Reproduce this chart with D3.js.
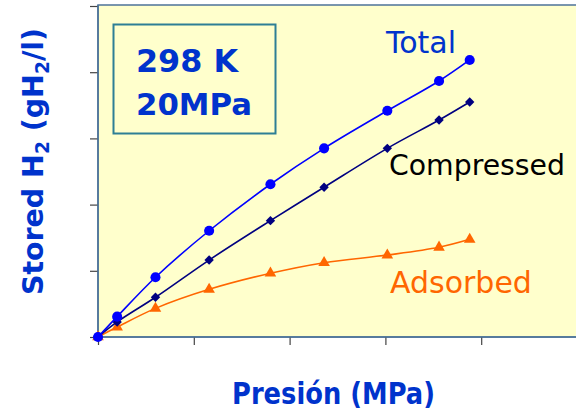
<!DOCTYPE html>
<html>
<head>
<meta charset="utf-8">
<script src="https://cdn.jsdelivr.net/npm/d3@7"></script>
<style>
  html, body { margin: 0; padding: 0; background: #ffffff; }
  svg { display: block; }
  text { font-family: "DejaVu Sans", Verdana, sans-serif; }
</style>
</head>
<body>
<svg id="chart" width="576" height="413"></svg>
<script>
// ---- data ----
const pressure   = [0, 1, 3, 5.8, 9, 11.8, 15.1, 17.8, 19.4];
const total      = [0, 1.23, 3.61, 6.42, 9.23, 11.40, 13.67, 15.47, 16.74];
const compressed = [0, 0.91, 2.40, 4.65, 7.03, 9.05, 11.40, 13.11, 14.20];
const adsorbed   = [0, 0.60, 1.73, 2.88, 3.85, 4.49, 4.95, 5.42, 5.90];
const xTicks = [0, 5, 10, 15, 20, 25];
const yTicks = [0, 4, 8, 12, 16, 20];
const seriesNames = ["Total", "Compressed", "Adsorbed"];
const boxLines = ["298 K", "20MPa"];
const xTitle = "Presión (MPa)";

const svg = d3.select("#chart");
const x = d3.scaleLinear().domain([0, 25]).range([98, 577]);
const y = d3.scaleLinear().domain([0, 20]).range([337, 6]);

// plot area
svg.append("rect")
  .attr("x", 98).attr("y", 5)
  .attr("width", 490).attr("height", 332)
  .attr("fill", "#FFFFCC")
  .attr("stroke", "#4d7399").attr("stroke-width", 1.5);

// axes (ticks only)
const gy = svg.append("g").attr("transform", "translate(98,0)")
  .call(d3.axisLeft(y).tickValues(yTicks).tickSize(8).tickFormat(""));
gy.select(".domain").remove();
gy.selectAll(".tick line").attr("stroke", "#444").attr("stroke-width", 1.2);

const gx = svg.append("g").attr("transform", "translate(0,337)")
  .call(d3.axisBottom(x).tickValues(xTicks).tickSize(8).tickFormat(""));
gx.select(".domain").remove();
gx.selectAll(".tick line").attr("stroke", "#444").attr("stroke-width", 1.2);

// redraw axis lines on top
svg.append("line").attr("x1", 98).attr("x2", 98).attr("y1", 5).attr("y2", 337)
  .attr("stroke", "#4d7399").attr("stroke-width", 1.5);
svg.append("line").attr("x1", 98).attr("x2", 576).attr("y1", 337).attr("y2", 337)
  .attr("stroke", "#4d7399").attr("stroke-width", 1.5);

// series
const series = [
  { name: seriesNames[0], vals: total,      color: "#0000FF", sym: d3.symbolCircle,   size: 80, rot: 0 },
  { name: seriesNames[1], vals: compressed, color: "#000080", sym: d3.symbolSquare,   size: 44, rot: 45 },
  { name: seriesNames[2], vals: adsorbed,   color: "#FF6600", sym: d3.symbolTriangle, size: 58, rot: 0 }
];

const line = d3.line()
  .x((d, i) => x(pressure[i]))
  .y(d => y(d))
  .curve(d3.curveCatmullRom.alpha(0.5));

// draw in reverse so Total is on top
series.slice().reverse().forEach(s => {
  svg.append("path")
    .attr("d", line(s.vals))
    .attr("fill", "none")
    .attr("stroke", s.color)
    .attr("stroke-width", 1.6);
  svg.append("g").selectAll("path")
    .data(s.vals)
    .join("path")
    .attr("d", d3.symbol().type(s.sym).size(s.size))
    .attr("transform", (d, i) => `translate(${x(pressure[i])},${y(d)}) rotate(${s.rot})`)
    .attr("fill", s.color);
});

// series labels
svg.append("text").attr("x", 386).attr("y", 53)
  .attr("font-size", 30).attr("fill", "#0033CC").text(seriesNames[0]);
svg.append("text").attr("x", 389).attr("y", 175)
  .attr("font-size", 29).attr("fill", "#000000")
  .attr("textLength", 176).attr("lengthAdjust", "spacingAndGlyphs").text(seriesNames[1]);
svg.append("text").attr("x", 390).attr("y", 293)
  .attr("font-size", 30).attr("fill", "#FF6600").text(seriesNames[2]);

// condition box
svg.append("rect")
  .attr("x", 113.5).attr("y", 24.5)
  .attr("width", 162).attr("height", 109)
  .attr("fill", "none")
  .attr("stroke", "#2E7F95").attr("stroke-width", 2);
svg.append("text").attr("x", 136).attr("y", 71.5)
  .attr("font-size", 32).attr("font-weight", "bold").attr("fill", "#0033CC")
  .attr("textLength", 102).attr("lengthAdjust", "spacingAndGlyphs")
  .text(boxLines[0]);
svg.append("text").attr("x", 136).attr("y", 115)
  .attr("font-size", 31).attr("font-weight", "bold").attr("fill", "#0033CC")
  .attr("textLength", 116).attr("lengthAdjust", "spacingAndGlyphs")
  .text(boxLines[1]);

// axis titles
svg.append("text").attr("x", 232).attr("y", 404)
  .attr("font-size", 30).attr("font-weight", "bold").attr("fill", "#0033CC")
  .attr("textLength", 203).attr("lengthAdjust", "spacingAndGlyphs")
  .text(xTitle);

const yt = svg.append("text")
  .attr("transform", "translate(43,295) rotate(-90)")
  .attr("font-size", 29).attr("font-weight", "bold").attr("fill", "#0033CC")
  .attr("textLength", 267).attr("lengthAdjust", "spacingAndGlyphs");
yt.append("tspan").text("Stored H");
yt.append("tspan").attr("font-size", 19).attr("dy", 6).text("2");
yt.append("tspan").attr("dy", -6).text(" (gH");
yt.append("tspan").attr("font-size", 19).attr("dy", 6).text("2");
yt.append("tspan").attr("dy", -6).text("/l)");
</script>
</body>
</html>
